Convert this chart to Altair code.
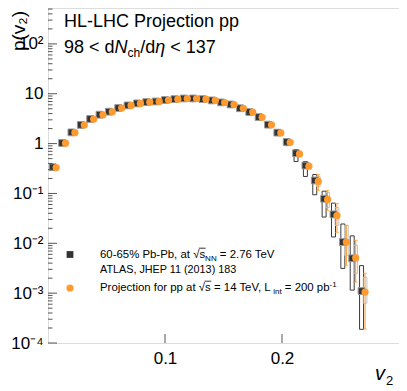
import altair as alt
import pandas as pd

# ---------------- data ----------------
x_pbpb = [0.004, 0.012, 0.020, 0.028, 0.036, 0.044, 0.052, 0.060, 0.068, 0.076,
          0.084, 0.092, 0.100, 0.108, 0.116, 0.124, 0.132, 0.140, 0.148, 0.156,
          0.164, 0.172, 0.180, 0.188, 0.196, 0.204, 0.212, 0.220, 0.228, 0.236,
          0.244, 0.252, 0.260, 0.268]
y_pbpb = [0.336, 1.03, 1.68, 2.37, 3.12, 3.80, 4.37, 5.17, 5.84, 6.40,
          6.80, 7.00, 7.50, 7.80, 8.05, 8.05, 7.80, 7.35, 6.70, 6.10,
          5.12, 4.30, 3.40, 2.40, 1.66, 1.08, 0.64, 0.363, 0.182, 0.0783,
          0.038, 0.0106, 0.0050, 0.0011]

x_pp = [0.007, 0.015, 0.023, 0.031, 0.039, 0.047, 0.055, 0.063, 0.071, 0.079,
        0.087, 0.095, 0.103, 0.111, 0.119, 0.127, 0.135, 0.143, 0.151, 0.159,
        0.167, 0.175, 0.183, 0.191, 0.199, 0.207, 0.215, 0.223, 0.231, 0.239,
        0.247, 0.255, 0.263, 0.271]
y_pp = [0.330, 1.02, 1.66, 2.35, 3.10, 3.78, 4.35, 5.15, 5.82, 6.38,
        6.78, 7.00, 7.48, 7.78, 8.03, 8.03, 7.78, 7.33, 6.68, 6.08,
        5.10, 4.28, 3.38, 2.38, 1.64, 1.06, 0.62, 0.352, 0.174, 0.076,
        0.036, 0.0106, 0.0051, 0.00105]

# systematic boxes of the Pb-Pb points (last bins)
box_pbpb_x = [0.196, 0.204, 0.212, 0.220, 0.228, 0.236, 0.244, 0.252, 0.260, 0.268]
box_pbpb_lo = [1.50, 0.91, 0.437, 0.219, 0.094, 0.0336, 0.0134, 0.00314, 0.00115, 0.000188]
box_pbpb_hi = [1.90, 1.26, 0.76, 0.437, 0.24, 0.111, 0.064, 0.0244, 0.0141, 0.00357]

# projection: systematic boxes and statistical bars (last bins)
box_pp_x = [0.231, 0.239, 0.247, 0.255, 0.263, 0.271]
box_pp_lo = [0.138, 0.0525, 0.0229, 0.00575, 0.00251, 0.00063]
box_pp_hi = [0.219, 0.105, 0.0525, 0.0229, 0.00912, 0.00209]
err_pp_lo = [0.115, 0.0457, 0.0166, 0.00363, 0.00166, 0.00019]
err_pp_hi = [0.240, 0.115, 0.063, 0.0229, 0.0115, 0.00251]

ytick_major = [1e-4, 1e-3, 1e-2, 1e-1, 1, 10, 100]
ytick_labels = ["10⁻⁴", "10⁻³", "10⁻²", "10⁻¹", "1", "10", "10²"]
xtick_major = [0.1, 0.2]

# ---------------- style ----------------
FONT = "Liberation Sans"
W, H = 351, 335
BLACK = "#333333"
ORANGE = "#ff9a2e"
FRAME = "#555555"
BOXW_PB = 0.0017
BOXW_PP = 0.0016

ytick_minor = [m * d for d in [1e-4, 1e-3, 1e-2, 1e-1, 1, 10, 100] for m in range(2, 10)
               if m * d < 525]

label_expr = "[" + ",".join("'%s'" % s for s in ytick_labels) + "][round(log(datum.value)/LN10)+4]"

xscale = alt.Scale(domain=[0, 0.3], nice=False, zero=False)
yscale = alt.Scale(type="log", domain=[1e-4, 525], nice=False)
xaxis = alt.Axis(values=xtick_major, format=".1f", title=None, ticks=False, domain=False,
                 grid=False, labelPadding=7, labelFontSize=17, labelFont=FONT,
                 labelColor="black")
yaxis = alt.Axis(values=ytick_major, labelExpr=label_expr, title=None, ticks=False,
                 domain=False, grid=False, labelPadding=5, labelFontSize=17,
                 labelFont=FONT, labelColor="black")


def X(field):
    return alt.X(field, type="quantitative", scale=xscale, axis=xaxis)


def Y(field):
    return alt.Y(field, type="quantitative", scale=yscale, axis=yaxis)


pb = pd.DataFrame({"x": x_pbpb, "y": y_pbpb})
pp = pd.DataFrame({"x": x_pp, "y": y_pp})
bpb = pd.DataFrame({"x": box_pbpb_x, "lo": box_pbpb_lo, "hi": box_pbpb_hi})
bpb["xa"] = bpb["x"] - BOXW_PB
bpb["xb"] = bpb["x"] + BOXW_PB
bpp = pd.DataFrame({"x": box_pp_x, "lo": box_pp_lo, "hi": box_pp_hi,
                    "elo": err_pp_lo, "ehi": err_pp_hi})
bpp["xa"] = bpp["x"] - BOXW_PP
bpp["xb"] = bpp["x"] + BOXW_PP

boxes_pb = alt.Chart(bpb).mark_rect(fill="transparent", stroke="#3a3a3a", strokeWidth=1).encode(
    x=X("xa"), x2="xb", y=Y("lo"), y2="hi")
boxes_pp = alt.Chart(bpp).mark_rect(fill="transparent", stroke="#c4c4c4", strokeWidth=1).encode(
    x=X("xa"), x2="xb", y=Y("lo"), y2="hi")
err_pp = alt.Chart(bpp).mark_rule(color=ORANGE, strokeWidth=1).encode(
    x=X("x"), y=Y("elo"), y2="ehi")
cap_lo = alt.Chart(bpp).mark_tick(color=ORANGE, thickness=1, size=4, orient="horizontal").encode(
    x=X("x"), y=Y("elo"))
cap_hi = alt.Chart(bpp).mark_tick(color=ORANGE, thickness=1, size=4, orient="horizontal").encode(
    x=X("x"), y=Y("ehi"))

squares = alt.Chart(pb).mark_square(size=46, color=BLACK, opacity=1, stroke="#999999",
                                    strokeWidth=1).encode(x=X("x"), y=Y("y"))
circles = alt.Chart(pp).mark_circle(size=52, color=ORANGE, opacity=1).encode(x=X("x"), y=Y("y"))

# inward ticks (ROOT style)
yt_major = alt.Chart(pd.DataFrame({"v": ytick_major})).mark_rule(color=FRAME, strokeWidth=1).encode(
    y=Y("v"), x=alt.value(0), x2=alt.value(9))
yt_minor = alt.Chart(pd.DataFrame({"v": ytick_minor})).mark_rule(color=FRAME, strokeWidth=1).encode(
    y=Y("v"), x=alt.value(0), x2=alt.value(4.5))
xt_major = alt.Chart(pd.DataFrame({"v": xtick_major})).mark_rule(color=FRAME, strokeWidth=1).encode(
    x=X("v"), y=alt.value(H), y2=alt.value(H - 9))

# Arial / Liberation Sans advance widths (per 1000 em)
AW = {" ": 278, "%": 889, "(": 333, ")": 333, ",": 278, "-": 333, ".": 278, "/": 278,
      "<": 584, "=": 584, "A": 667, "C": 722, "E": 667, "H": 722, "J": 500, "L": 556,
      "N": 722, "P": 667, "S": 667, "T": 611, "V": 667, "a": 556, "b": 556, "c": 500,
      "d": 556, "e": 556, "f": 278, "h": 556, "i": 222, "j": 222, "n": 556, "o": 556,
      "p": 556, "r": 333, "s": 500, "t": 278, "v": 500, "√": 549, "η": 556}


def twidth(s, size):
    return sum(AW.get(c, 556) for c in s) / 1000.0 * size


def txt(s, x, y, size, style="normal", align="left", angle=0, baseline="alphabetic"):
    return alt.Chart(pd.DataFrame({"t": [s]})).mark_text(
        align=align, baseline=baseline, fontSize=size, fontStyle=style, font=FONT,
        color="black", angle=angle).encode(x=alt.value(x), y=alt.value(y), text="t:N")


def rich(pieces, x0, y0):
    """pieces: (text, size, dy, style, overline); leading spaces become an x advance"""
    out = []
    x = x0
    for text, size, dy, style, over in pieces:
        body = text.lstrip(" ")
        x += twidth(text[:len(text) - len(body)], size)
        out.append(txt(body, x, y0 + dy, size, style))
        w = twidth(body, size)
        if over:
            yo = y0 - 0.86 * size
            out.append(alt.Chart(pd.DataFrame({"a": [0]})).mark_rule(color="black", strokeWidth=0.8)
                       .encode(x=alt.value(x + twidth("√", size) - 0.5), x2=alt.value(x + w + 0.5),
                               y=alt.value(yo), y2=alt.value(yo)))
        x += w
    return out


LS = 11.4   # legend font size
SUB = 8.0
texts = [txt("HL-LHC Projection pp", 16, 19, 18)]
texts += rich([("98 < d", 18, 0, "normal", False), ("N", 18, 0, "italic", False),
               ("ch", 12, 4, "normal", False), ("/d", 18, 0, "normal", False),
               ("η", 18, 0, "italic", False), (" < 137", 18, 0, "normal", False)], 16, 45)
texts += rich([("60-65% Pb-Pb, at ", LS, 0, "normal", False), ("√s", LS, 0, "normal", True),
               ("NN", SUB, 3, "normal", False), (" = 2.76 TeV", LS, 0, "normal", False)], 52, 250)
texts += [txt("ATLAS, JHEP 11 (2013) 183", 52, 265, 10.8)]
texts += rich([("Projection for pp at ", LS, 0, "normal", False), ("√s", LS, 0, "normal", True),
               (" = 14 TeV, L", LS, 0, "normal", False), ("int", SUB, 3, "normal", False),
               (" = 200 pb", LS, 0, "normal", False), ("-1", SUB, -4, "normal", False)], 52, 283)
texts += [
    txt("p(v₂)", -29, 23, 19, angle=270, align="center", baseline="middle"),
    txt("v", 327, 372, 20, "italic"),
    txt("2", 338, 377, 13),
]

leg_sq = alt.Chart(pd.DataFrame({"a": [0]})).mark_square(size=46, color=BLACK, opacity=1).encode(
    x=alt.value(22), y=alt.value(246.5))
leg_ci = alt.Chart(pd.DataFrame({"a": [0]})).mark_circle(size=52, color=ORANGE, opacity=1).encode(
    x=alt.value(22), y=alt.value(280))

chart = alt.layer(
    boxes_pb, boxes_pp, err_pp, cap_lo, cap_hi, squares, circles,
    yt_major, yt_minor, xt_major, leg_sq, leg_ci, *texts
).properties(
    width=W, height=H, autosize=alt.AutoSizeParams(type="none"),
    padding={"left": 40, "top": 0, "right": 0, "bottom": 48}
).configure_view(stroke=FRAME, strokeWidth=1).configure(background="white")

chart.save("out.html", embed_options={"renderer": "svg", "actions": False})
